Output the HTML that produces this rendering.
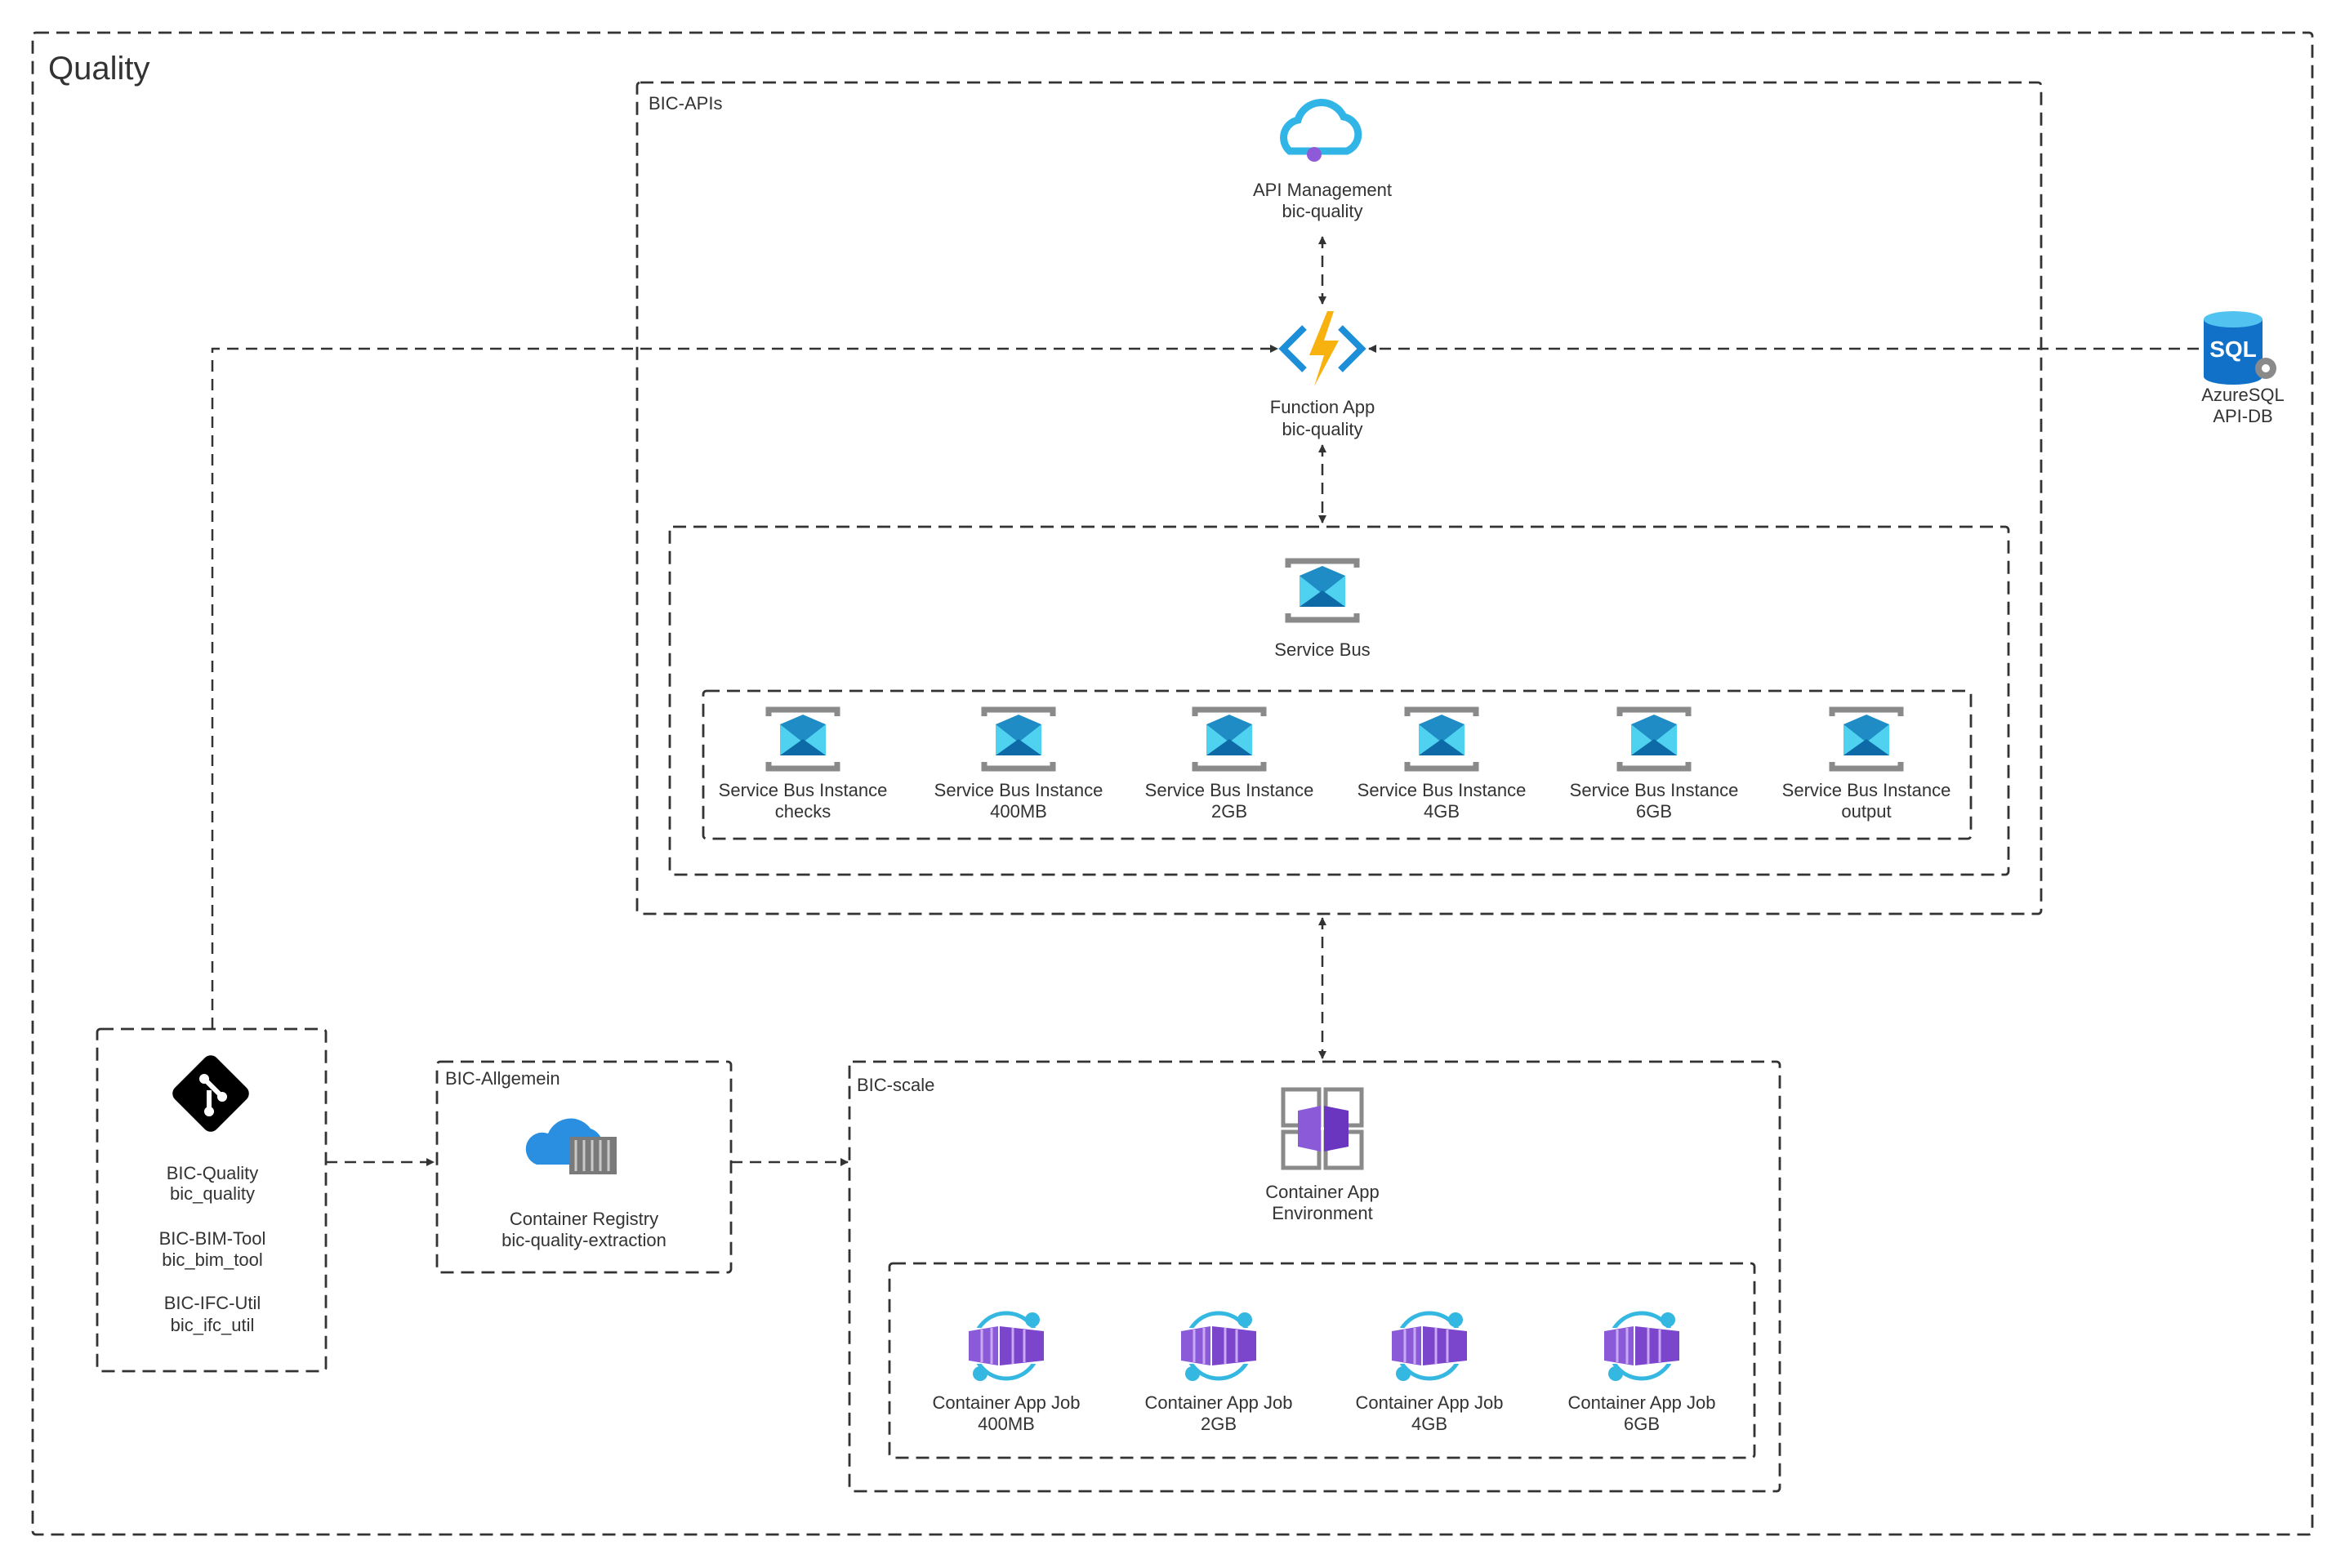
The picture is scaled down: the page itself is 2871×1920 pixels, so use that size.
<!DOCTYPE html>
<html><head><meta charset="utf-8"><style>
html,body{margin:0;padding:0;background:#fff}
svg{display:block}
text{font-family:"Liberation Sans",Arial,sans-serif;fill:#333}
</style></head><body>
<svg width="2871" height="1920" viewBox="0 0 2871 1920" xmlns="http://www.w3.org/2000/svg">
<defs>
<marker id="ah" markerWidth="10" markerHeight="10" refX="9" refY="5" orient="auto-start-reverse" markerUnits="userSpaceOnUse" viewBox="0 0 10 10"><path d="M0,0 L10,5 L0,10 z" fill="#333"/></marker>
<g id="sb">
<path d="M-42,-28 v-8 h84 v8 M-42,28 v8 h84 v-8" fill="none" stroke="#8a8a8a" stroke-width="7"/>
<path d="M-28,-18 L0,-30 L28,-18 V20 H-28 Z" fill="#1f8cc6"/>
<path d="M-28,-18 L0,4 L28,-18 V20 H-28 Z" fill="#4fd2ef"/>
<path d="M-28,20 L0,0 L28,20 Z" fill="#0d6aa6"/>
</g>
<g id="job">
<circle cx="0" cy="0" r="40" fill="none" stroke="#34b7e0" stroke-width="5"/>
<rect x="-44" y="-22" width="88" height="44" fill="#fff"/>
<path d="M-46,-18 L-10,-24 V24 L-46,18 Z" fill="#8a5ad8"/>
<path d="M-8,-24 L46,-18 V18 L-8,24 Z" fill="#7b45cc"/>
<path d="M-30,-20 V20 M-18,-22 V22 M8,-22 V22 M22,-20 V20" stroke="#c9a8f5" stroke-width="3"/>
<circle cx="32" cy="-32" r="9" fill="#34b7e0"/>
<circle cx="-32" cy="34" r="9" fill="#34b7e0"/>
</g>
</defs>
<g fill="none" stroke="#333" stroke-width="2.8" stroke-dasharray="16,9">
<rect x="40" y="40" width="2791" height="1839" rx="4"/>
<rect x="780" y="101" width="1719" height="1018" rx="4"/>
<rect x="820" y="645" width="1639" height="426" rx="4"/>
<rect x="861" y="846" width="1552" height="181" rx="4"/>
<rect x="119" y="1260" width="280" height="419" rx="4"/>
<rect x="535" y="1300" width="360" height="258" rx="4"/>
<rect x="1040" y="1300" width="1139" height="526" rx="4"/>
<rect x="1089" y="1547" width="1059" height="238" rx="4"/>
</g>
<g fill="none" stroke="#333" stroke-width="2.5" stroke-dasharray="14,9">
<line x1="1619" y1="290" x2="1619" y2="372" marker-start="url(#ah)" marker-end="url(#ah)"/>
<line x1="1619" y1="545" x2="1619" y2="640" marker-start="url(#ah)" marker-end="url(#ah)"/>
<line x1="1619" y1="1124" x2="1619" y2="1296" marker-start="url(#ah)" marker-end="url(#ah)"/>
<path d="M260,1260 V427 H1564" marker-end="url(#ah)"/>
<line x1="2692" y1="427" x2="1676" y2="427" marker-end="url(#ah)"/>
<line x1="399" y1="1423" x2="531" y2="1423" marker-end="url(#ah)"/>
<line x1="895" y1="1423" x2="1038" y2="1423" marker-end="url(#ah)"/>
</g>
<text x="59" y="97" font-size="40">Quality</text>
<text x="794" y="134" font-size="22">BIC-APIs</text>
<text x="545" y="1328" font-size="22">BIC-Allgemein</text>
<text x="1049" y="1336" font-size="22">BIC-scale</text>
<!-- API mgmt -->
<g transform="translate(1619,165)">
<path d="M-40,20 A22,22 0 0 1 -30,-18 A30,30 0 0 1 26,-22 A22,22 0 0 1 30,20 Z" fill="none" stroke="#31b5e6" stroke-width="9"/>
<circle cx="-10" cy="24" r="9" fill="#8f5ad8"/>
</g>
<g font-size="22" text-anchor="middle">
<text x="1619" y="240">API Management</text><text x="1619" y="266">bic-quality</text>
<text x="1619" y="506">Function App</text><text x="1619" y="533">bic-quality</text>
<text x="2746" y="491">AzureSQL</text><text x="2746" y="517">API-DB</text>
<text x="1619" y="803">Service Bus</text>
<text x="983" y="975">Service Bus Instance</text><text x="983" y="1001">checks</text>
<text x="1247" y="975">Service Bus Instance</text><text x="1247" y="1001">400MB</text>
<text x="1505" y="975">Service Bus Instance</text><text x="1505" y="1001">2GB</text>
<text x="1765" y="975">Service Bus Instance</text><text x="1765" y="1001">4GB</text>
<text x="2025" y="975">Service Bus Instance</text><text x="2025" y="1001">6GB</text>
<text x="2285" y="975">Service Bus Instance</text><text x="2285" y="1001">output</text>
<text x="260" y="1444">BIC-Quality</text><text x="260" y="1469">bic_quality</text>
<text x="260" y="1524">BIC-BIM-Tool</text><text x="260" y="1550">bic_bim_tool</text>
<text x="260" y="1603">BIC-IFC-Util</text><text x="260" y="1630">bic_ifc_util</text>
<text x="715" y="1500">Container Registry</text><text x="715" y="1526">bic-quality-extraction</text>
<text x="1619" y="1467">Container App</text><text x="1619" y="1493">Environment</text>
<text x="1232" y="1725">Container App Job</text><text x="1232" y="1751">400MB</text>
<text x="1492" y="1725">Container App Job</text><text x="1492" y="1751">2GB</text>
<text x="1750" y="1725">Container App Job</text><text x="1750" y="1751">4GB</text>
<text x="2010" y="1725">Container App Job</text><text x="2010" y="1751">6GB</text>
</g>
<!-- function app -->
<g transform="translate(1619,427)">
<path d="M-22,-26 L-48,0 L-22,26" fill="none" stroke="#1c8fd8" stroke-width="8"/>
<path d="M22,-26 L48,0 L22,26" fill="none" stroke="#1c8fd8" stroke-width="8"/>
<path d="M6,-46 L-16,8 L2,8 L-10,46 L20,-10 L2,-10 L14,-46 Z" fill="#f7b20f"/>
</g>
<!-- SQL -->
<g transform="translate(2734,425)">
<path d="M-36,-34 V36 A36,10 0 0 0 36,36 V-34 Z" fill="#1171c8"/>
<ellipse cx="0" cy="-34" rx="36" ry="10" fill="#52c3f0"/>
<text x="0" y="12" font-size="28" font-weight="bold" text-anchor="middle" style="fill:#fff">SQL</text>
<circle cx="40" cy="26" r="13" fill="#8a8a8a"/><circle cx="40" cy="26" r="5" fill="#fff"/>
</g>
<use href="#sb" x="1619" y="723"/>
<use href="#sb" x="983" y="905"/><use href="#sb" x="1247" y="905"/><use href="#sb" x="1505" y="905"/>
<use href="#sb" x="1765" y="905"/><use href="#sb" x="2025" y="905"/><use href="#sb" x="2285" y="905"/>
<!-- git -->
<g transform="translate(258,1339)">
<rect x="-36" y="-36" width="72" height="72" rx="10" transform="rotate(45)" fill="#000"/>
<path d="M-8,-18 L14,4 M-2,-4 V22" stroke="#fff" stroke-width="6"/>
<circle cx="-8" cy="-18" r="6" fill="#fff"/><circle cx="14" cy="4" r="6" fill="#fff"/><circle cx="-2" cy="22" r="6" fill="#fff"/>
</g>
<!-- registry -->
<g transform="translate(705,1404)">
<path d="M-48,22 A20,20 0 0 1 -34,-16 A30,30 0 0 1 18,-22 A22,22 0 0 1 30,10 V22 Z" fill="#2a8fe0"/>
<rect x="-8" y="-12" width="58" height="46" fill="#7a7a7a"/>
<path d="M0,-8 V30 M10,-8 V30 M20,-8 V30 M30,-8 V30 M40,-8 V30" stroke="#c9c9c9" stroke-width="3"/>
</g>
<!-- container env -->
<g transform="translate(1619,1382)">
<rect x="-48" y="-48" width="44" height="44" fill="none" stroke="#8a8a8a" stroke-width="5"/>
<rect x="4" y="-48" width="44" height="44" fill="none" stroke="#8a8a8a" stroke-width="5"/>
<rect x="-48" y="4" width="44" height="44" fill="none" stroke="#8a8a8a" stroke-width="5"/>
<rect x="4" y="4" width="44" height="44" fill="none" stroke="#8a8a8a" stroke-width="5"/>
<path d="M-30,-22 L-2,-28 V28 L-30,22 Z" fill="#8a5ad8"/>
<path d="M2,-28 L32,-22 V22 L2,28 Z" fill="#6a36c0"/>
</g>
<use href="#job" x="1232" y="1648"/><use href="#job" x="1492" y="1648"/>
<use href="#job" x="1750" y="1648"/><use href="#job" x="2010" y="1648"/>
</svg>
</body></html>
